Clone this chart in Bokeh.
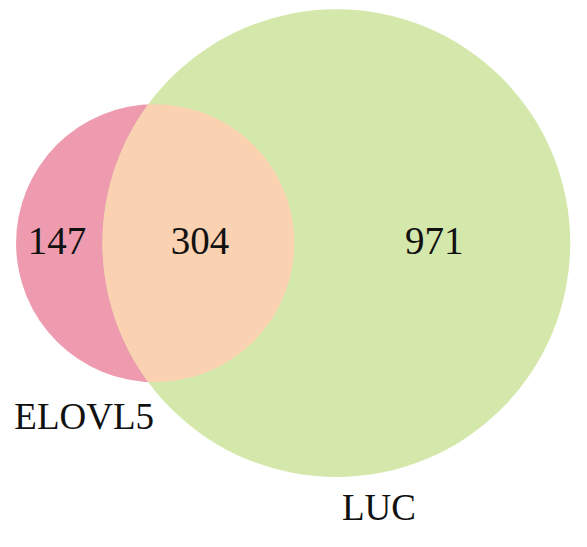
import numpy as np
from bokeh.plotting import figure
from bokeh.models import Range1d, ColumnDataSource
from bokeh.core.properties import value
from bokeh.embed import file_html
from bokeh.resources import INLINE

# ---- data ----
set_names = ["ELOVL5", "LUC"]
only_a = 147
both = 304
only_b = 971
region_values = [only_a, both, only_b]
set_colors = ["#EE9BB0", "#D5E8AB"]
overlap_color = "#FBD2B1"

# ---- layout (reference pixel space 587 x 547, scaled into the figure) ----
W, H = 571, 531
REF_W, REF_H = 587, 547
scale = 143.0 / np.sqrt(only_a + both)      # px per sqrt(item)
c1 = (159.0, 250.0)                          # centre of first set

n_a = only_a + both
n_b = only_b + both
r1 = scale * np.sqrt(n_a)
r2 = scale * np.sqrt(n_b)


def lens_area(d, r1, r2):
    a1 = r1 ** 2 * np.arccos((d * d + r1 * r1 - r2 * r2) / (2 * d * r1))
    a2 = r2 ** 2 * np.arccos((d * d + r2 * r2 - r1 * r1) / (2 * d * r2))
    s = 0.5 * np.sqrt((-d + r1 + r2) * (d + r1 - r2) * (d - r1 + r2) * (d + r1 + r2))
    return a1 + a2 - s


target = np.pi * scale ** 2 * both
lo, hi = abs(r2 - r1) + 1e-6, r1 + r2 - 1e-6
for _ in range(100):
    mid = 0.5 * (lo + hi)
    if lens_area(mid, r1, r2) > target:
        lo = mid
    else:
        hi = mid
d = 0.5 * (lo + hi)
c2 = (c1[0] + d, c1[1])

# lens polygon
a = (d * d + r1 * r1 - r2 * r2) / (2 * d)
th1 = np.arccos(a / r1)
th2 = np.arccos((d - a) / r2)
t1 = np.linspace(-th1, th1, 240)
t2 = np.linspace(np.pi - th2, np.pi + th2, 240)
lens_x = np.concatenate([c1[0] + r1 * np.cos(t1), c2[0] + r2 * np.cos(t2)])
lens_y = np.concatenate([c1[1] + r1 * np.sin(t1), c2[1] + r2 * np.sin(t2)])

p = figure(width=W, height=H, output_backend="svg", toolbar_location=None,
           x_range=Range1d(0, REF_W), y_range=Range1d(REF_H, 0),
           min_border=0, background_fill_color="white", border_fill_color="white")
p.axis.visible = False
p.grid.visible = False
p.outline_line_color = None

p.circle(x=[c1[0]], y=[c1[1]], radius=r1, fill_color=set_colors[0], line_color=None)
p.circle(x=[c2[0]], y=[c2[1]], radius=r2, fill_color=set_colors[1], line_color=None)
p.patch(lens_x, lens_y, fill_color=overlap_color, line_color=None)

num_src = ColumnDataSource(dict(
    x=[58, 205, 446], y=[247.5, 247.5, 247.5],
    t=[str(v) for v in region_values]))
p.text(x="x", y="y", text="t", source=num_src, text_align="center",
       text_baseline="middle", text_font=value("Liberation Serif"),
       text_font_size="39px", text_color="#111111")

lab_src = ColumnDataSource(dict(x=[86, 389], y=[428.5, 522], t=set_names))
p.text(x="x", y="y", text="t", source=lab_src, text_align="center",
       text_baseline="middle", text_font=value("Liberation Serif"),
       text_font_size="37px", text_color="#111111")

open("out.html", "w").write(file_html(p, INLINE))
